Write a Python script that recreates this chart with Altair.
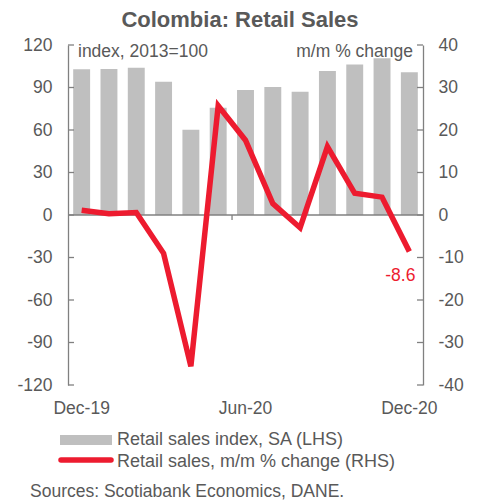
import altair as alt
import pandas as pd

months = ["Dec-19", "Jan-20", "Feb-20", "Mar-20", "Apr-20", "May-20", "Jun-20",
          "Jul-20", "Aug-20", "Sep-20", "Oct-20", "Nov-20", "Dec-20"]
index_sa = [102.8, 103.0, 104.0, 94.0, 60.2, 75.7, 88.2, 90.3, 87.0, 101.6, 106.3, 110.6, 100.7]
mom_pct = [1.1, 0.3, 0.6, -9.0, -35.6, 25.7, 17.6, 2.7, -3.0, 16.1, 5.1, 4.2, -8.6]
left_ticks = [-120, -90, -60, -30, 0, 30, 60, 90, 120]
right_ticks = [-40, -30, -20, -10, 0, 10, 20, 30, 40]
x_labels = ["Dec-19", "Jun-20", "Dec-20"]
x_tick_months = ["Jun-20"]

GRAY = "#BFBFBF"
RED = "#ED1B2F"
TXT = "#595959"
AX = "#808080"
FONT = "Liberation Sans"

df = pd.DataFrame({"month": months, "index": index_sa, "mom": mom_pct})
last = df.tail(1).copy()
last["lbl"] = [f"{v:.1f}" for v in last["mom"]]
lt = pd.DataFrame({"v": left_ticks})
rt = pd.DataFrame({"v": right_ticks})
xt = pd.DataFrame({"month": x_tick_months})

W, H = 355, 340
LBL = "datum.value < 0 ? '-' + (-datum.value) : '' + datum.value"

xenc = alt.X("month:N", sort=months,
             scale=alt.Scale(paddingInner=0.38, paddingOuter=0.19),
             axis=alt.Axis(values=x_labels, labelAngle=0, ticks=False, domain=False,
                           title=None, labelFontSize=17.5, labelColor=TXT, labelFont=FONT,
                           labelPadding=14, grid=False))

yL = alt.Scale(domain=[-120, 120], nice=False, zero=False)
yR = alt.Scale(domain=[-40, 40], nice=False, zero=False)

base = alt.Chart(df)

bars = base.mark_bar(color=GRAY).encode(
    x=xenc,
    y=alt.Y("index:Q", scale=yL,
            axis=alt.Axis(orient="left", values=left_ticks, title=None, grid=False,
                          ticks=False, labelPadding=16, labelFontSize=17.5, labelColor=TXT,
                          labelFont=FONT, domainColor=AX, domainWidth=1.3, labelExpr=LBL)),
)

zero = base.mark_rule(color=AX, strokeWidth=1.3).encode(
    y=alt.Y("z:Q", scale=yL, axis=None),
    x=alt.value(0), x2=alt.value(W),
).transform_calculate(z="0").transform_filter("datum.month == 'Dec-19'")

xtick = alt.Chart(xt).mark_rule(color=AX, strokeWidth=1.3).encode(
    x=alt.X("month:N", sort=months, bandPosition=0),
    xOffset=alt.value(-5),
    y=alt.value(H / 2), y2=alt.value(H / 2 + 5),
)

line = base.mark_line(color=RED, strokeWidth=5.5).encode(
    x=alt.X("month:N", sort=months),
    y=alt.Y("mom:Q", scale=yR,
            axis=alt.Axis(orient="right", values=right_ticks, title=None, grid=False,
                          ticks=False, labelPadding=15, labelFontSize=17.5, labelColor=TXT,
                          labelFont=FONT, domainColor=AX, domainWidth=1.3, labelExpr=LBL)),
)

lab = alt.Chart(last).mark_text(color=RED, fontSize=17.5, font=FONT, dx=-9, dy=24).encode(
    x=alt.X("month:N", sort=months),
    y=alt.Y("mom:Q", scale=yR, axis=None),
    text="lbl:N",
)

lticks = alt.Chart(lt).mark_rule(color=AX, strokeWidth=1.3).encode(
    y=alt.Y("v:Q", scale=yL, axis=None), x=alt.value(0), x2=alt.value(6))
rticks = alt.Chart(rt).mark_rule(color=AX, strokeWidth=1.3).encode(
    y=alt.Y("v:Q", scale=yR, axis=None), x=alt.value(W - 6), x2=alt.value(W))

def txt(s, x, y, size=17.5, align="left", color=TXT, weight="normal", baseline="middle"):
    return alt.Chart(pd.DataFrame({"t": [s]})).mark_text(
        fontSize=size, font=FONT, align=align, baseline=baseline, color=color,
        fontWeight=weight).encode(text="t:N", x=alt.value(x), y=alt.value(y))

title = txt("Colombia: Retail Sales", 172, -18.5, size=22, align="center", weight="bold",
            baseline="alphabetic")
lhs = txt("index, 2013=100", 10, 7)
rhs = txt("m/m % change", 345, 7, align="right")
leg1 = txt("Retail sales index, SA (LHS)", 49, 395, size=18)
leg2 = txt("Retail sales, m/m % change (RHS)", 49, 417, size=18)
src = txt("Sources: Scotiabank Economics, DANE.", -38, 447, size=17.5)

sw1 = alt.Chart(pd.DataFrame({"a": [0]})).mark_rule(color=GRAY, strokeWidth=10).encode(
    x=alt.value(-8), x2=alt.value(44), y=alt.value(395))
sw2 = alt.Chart(pd.DataFrame({"a": [0]})).mark_rule(color=RED, strokeWidth=5.5, strokeCap="round").encode(
    x=alt.value(-7), x2=alt.value(43), y=alt.value(415))

chart = alt.layer(
    bars, zero, xtick, lticks, rticks, line, lab, title, lhs, rhs, leg1, leg2, src, sw1, sw2
).resolve_scale(y="independent").properties(
    width=W, height=H,
    autosize="none",
    padding={"left": 60, "top": 37, "right": 47, "bottom": 115},
).configure_view(stroke=None)

chart.save("out.html", embed_options={"renderer": "svg", "actions": False})
